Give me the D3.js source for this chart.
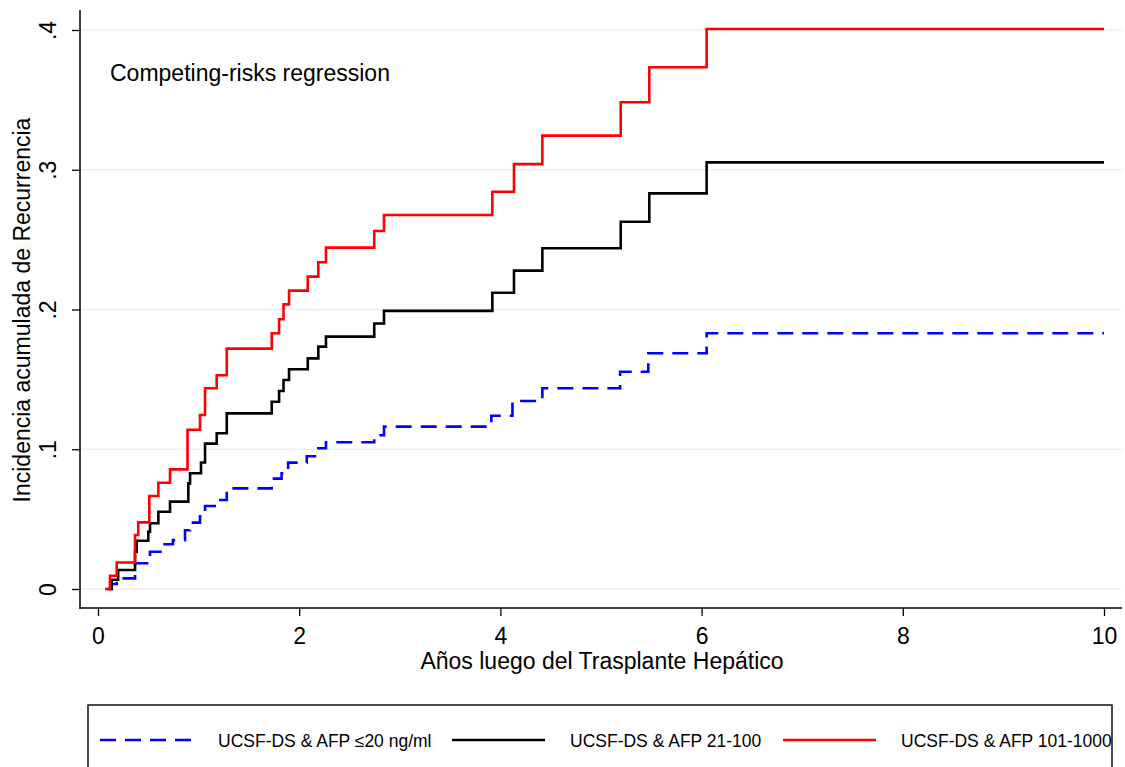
<!DOCTYPE html>
<html>
<head>
<meta charset="utf-8">
<script src="https://cdn.jsdelivr.net/npm/d3@7"></script>
<style>
  html, body { margin: 0; padding: 0; background: #fff; }
  svg { display: block; font-family: "Liberation Sans", Arial, Helvetica, sans-serif; }
</style>
</head>
<body>
<svg id="chart" width="1125" height="767"></svg>
<script>
// Cumulative incidence of recurrence (competing-risks regression), by AFP group.
// Each series: event times (years) and the cumulative incidence reached at that time.
const lowTimes   = [0.10, 0.136, 0.186, 0.368, 0.517, 0.646, 0.745, 0.865, 0.915, 1.014, 1.064, 1.18, 1.28, 1.727, 1.825, 1.89, 2.075, 2.19, 2.266, 2.746, 2.843, 3.91, 4.12, 4.417, 5.19, 5.47, 6.05, 10];
const lowValues  = [0, 0.0036, 0.0076, 0.0184, 0.0267, 0.0320, 0.0350, 0.0420, 0.0475, 0.0520, 0.0594, 0.0637, 0.0720, 0.0790, 0.0828, 0.0904, 0.0950, 0.1007, 0.1050, 0.1100, 0.1162, 0.1240, 0.1345, 0.1436, 0.1555, 0.1687, 0.1830, 0.1830];

const midTimes   = [0.09, 0.136, 0.20, 0.368, 0.385, 0.50, 0.517, 0.60, 0.716, 0.898, 0.915, 1.024, 1.064, 1.18, 1.28, 1.727, 1.80, 1.844, 1.899, 2.085, 2.19, 2.266, 2.746, 2.843, 3.92, 4.135, 4.417, 5.196, 5.48, 6.05, 10];
const midValues  = [0, 0.0066, 0.0136, 0.0267, 0.0345, 0.0410, 0.0470, 0.0553, 0.0625, 0.0756, 0.0828, 0.0905, 0.1040, 0.1114, 0.1257, 0.1340, 0.1417, 0.1496, 0.1572, 0.1650, 0.1734, 0.1806, 0.1900, 0.1990, 0.2120, 0.2278, 0.2438, 0.2628, 0.2831, 0.3053, 0.3053];

const highTimes  = [0.07, 0.119, 0.186, 0.368, 0.40, 0.51, 0.60, 0.716, 0.89, 1.014, 1.064, 1.18, 1.28, 1.727, 1.80, 1.844, 1.899, 2.085, 2.19, 2.266, 2.746, 2.843, 3.92, 4.135, 4.417, 5.196, 5.48, 6.05, 10];
const highValues = [0, 0.0095, 0.0190, 0.0386, 0.0477, 0.0665, 0.0760, 0.0856, 0.1140, 0.1245, 0.1436, 0.1530, 0.1720, 0.1830, 0.1930, 0.2037, 0.2135, 0.2235, 0.2338, 0.2443, 0.2562, 0.2676, 0.2843, 0.3040, 0.3244, 0.3483, 0.3733, 0.4007, 0.4007];

const seriesNames = ["UCSF-DS & AFP \u226420 ng/ml", "UCSF-DS & AFP 21-100", "UCSF-DS & AFP 101-1000"];
const xTicks = [0, 2, 4, 6, 8, 10];
const yTicks = [0, 0.1, 0.2, 0.3, 0.4];
const yTickLabels = ["0", ".1", ".2", ".3", ".4"];

const svg = d3.select("#chart");

const frame = { left: 80, right: 1122, top: 10, bottom: 608 };
const x = d3.scaleLinear().domain([0, 10]).range([98, 1104]);
const y = d3.scaleLinear().domain([0, 0.4]).range([589, 30]);
const FS = 23;

// horizontal grid
svg.append("g").selectAll("line").data(yTicks).join("line")
  .attr("x1", frame.left).attr("x2", frame.right)
  .attr("y1", d => y(d)).attr("y2", d => y(d))
  .attr("stroke", "#eaf2f3").attr("stroke-width", 1.6);

// y axis
const yAxis = svg.append("g").attr("transform", `translate(${frame.left},0)`)
  .call(d3.axisLeft(y).tickValues(yTicks).tickSize(8).tickFormat((d, i) => yTickLabels[i]));
yAxis.select(".domain").remove();
yAxis.selectAll(".tick line").attr("stroke", "#000").attr("stroke-width", 1.3);
yAxis.selectAll(".tick text")
  .attr("font-size", FS).attr("font-family", "Liberation Sans, Arial, sans-serif").attr("fill", "#000")
  .attr("text-anchor", "middle").attr("x", null).attr("dy", null)
  .attr("transform", "translate(-24,0) rotate(-90)");
svg.append("line").attr("x1", frame.left).attr("x2", frame.left)
  .attr("y1", frame.top).attr("y2", frame.bottom + 0.7).attr("stroke", "#000").attr("stroke-width", 1.5);

// x axis
const xAxis = svg.append("g").attr("transform", `translate(0,${frame.bottom})`)
  .call(d3.axisBottom(x).tickValues(xTicks).tickSize(8).tickFormat(d3.format("d")));
xAxis.select(".domain").remove();
xAxis.selectAll(".tick line").attr("stroke", "#000").attr("stroke-width", 1.3);
xAxis.selectAll(".tick text")
  .attr("font-size", FS).attr("font-family", "Liberation Sans, Arial, sans-serif").attr("fill", "#000")
  .attr("y", 36).attr("dy", null);
svg.append("line").attr("x1", frame.left - 0.7).attr("x2", frame.right)
  .attr("y1", frame.bottom).attr("y2", frame.bottom).attr("stroke", "#000").attr("stroke-width", 1.5);

// axis titles
svg.append("text").attr("x", 602).attr("y", 669).attr("text-anchor", "middle")
  .attr("font-size", FS).text("Años luego del Trasplante Hepático");
svg.append("text").attr("transform", "translate(30,310) rotate(-90)").attr("text-anchor", "middle")
  .attr("font-size", FS).text("Incidencia acumulada de Recurrencia");

// annotation
svg.append("text").attr("x", 110).attr("y", 81).attr("font-size", FS).text("Competing-risks regression");

// step curves
const series = [
  { name: seriesNames[0], t: lowTimes,  v: lowValues,  color: "#0000ff", dash: "16,9" },
  { name: seriesNames[1], t: midTimes,  v: midValues,  color: "#000000", dash: null },
  { name: seriesNames[2], t: highTimes, v: highValues, color: "#ff0000", dash: null }
];
const line = d3.line().x(d => x(d[0])).y(d => y(d[1])).curve(d3.curveStepAfter);
svg.append("g").selectAll("path").data(series).join("path")
  .attr("d", s => line(d3.zip(s.t, s.v)))
  .attr("fill", "none")
  .attr("stroke", s => s.color)
  .attr("stroke-width", 2.6)
  .attr("stroke-dasharray", s => s.dash);

// legend
svg.append("rect").attr("x", 88).attr("y", 705).attr("width", 1024).attr("height", 90)
  .attr("fill", "none").attr("stroke", "#000").attr("stroke-width", 1.4);
const legendX = [100, 452, 783];
const leg = svg.append("g").selectAll("g").data(series).join("g")
  .attr("transform", (d, i) => `translate(${legendX[i]},740)`);
leg.append("line").attr("x1", 0).attr("x2", 93).attr("y1", 0).attr("y2", 0)
  .attr("stroke", d => d.color).attr("stroke-width", 2.6).attr("stroke-dasharray", d => d.dash);
leg.append("text").attr("x", 118).attr("y", 6.5).attr("font-size", 17.5).text(d => d.name);
</script>
</body>
</html>
